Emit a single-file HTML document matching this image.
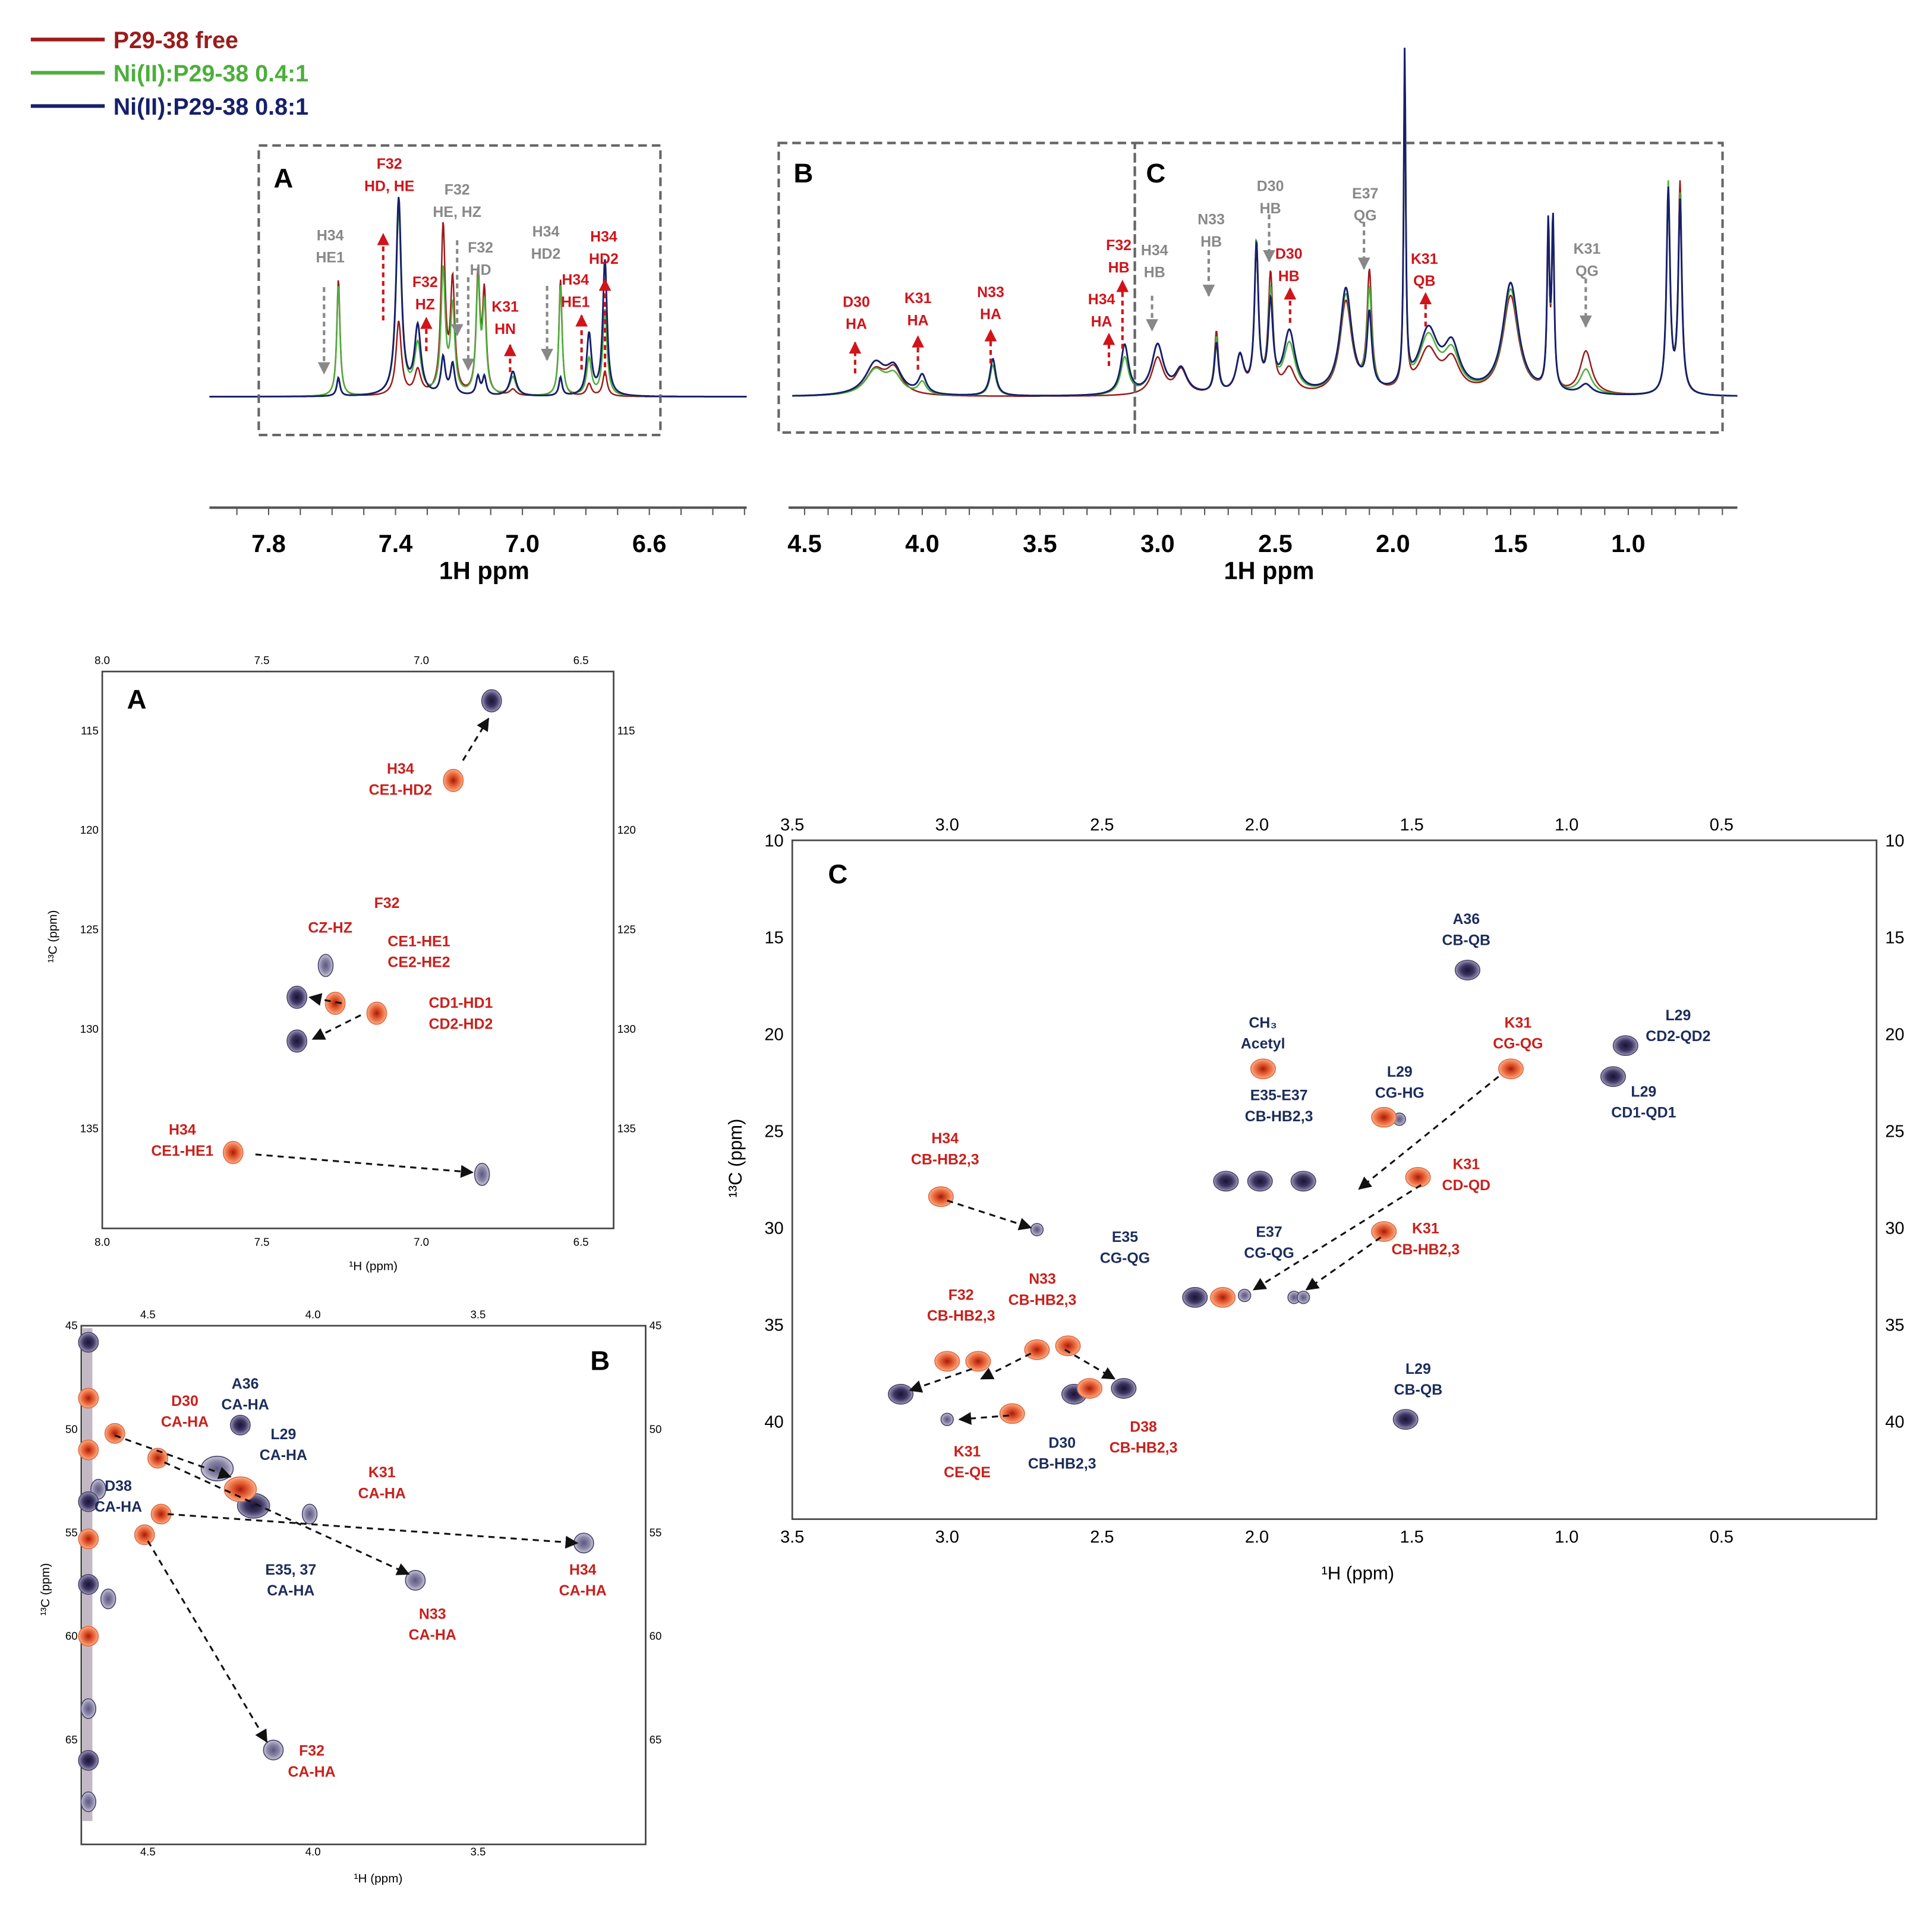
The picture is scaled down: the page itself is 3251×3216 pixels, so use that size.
<!DOCTYPE html>
<html><head><meta charset="utf-8"><style>
html,body{margin:0;padding:0;background:#fff;}
svg{display:block;}
text{font-family:"Liberation Sans",sans-serif;}
</style></head><body>
<svg id="fig" xmlns="http://www.w3.org/2000/svg" width="3251" height="3216" viewBox="0 0 1568 1551">
<defs>
<marker id="ah-k" viewBox="0 0 10 10" refX="9" refY="5" markerWidth="7" markerHeight="7" orient="auto"><path d="M0,0 L10,5 L0,10 z" fill="#111"/></marker>
<marker id="ah-r" viewBox="0 0 10 10" refX="9" refY="5" markerWidth="5" markerHeight="5" orient="auto"><path d="M0,0 L10,5 L0,10 z" fill="#d0141a"/></marker>
<marker id="ah-g" viewBox="0 0 10 10" refX="9" refY="5" markerWidth="5" markerHeight="5" orient="auto"><path d="M0,0 L10,5 L0,10 z" fill="#888"/></marker>
<radialGradient id="gr-red"><stop offset="0" stop-color="#a01c10"/><stop offset="0.45" stop-color="#e2552a"/><stop offset="0.8" stop-color="#f08a60"/><stop offset="1" stop-color="#f6b79a"/></radialGradient>
<radialGradient id="gr-blue"><stop offset="0" stop-color="#1a1433"/><stop offset="0.5" stop-color="#3a3360"/><stop offset="0.85" stop-color="#7a7598"/><stop offset="1" stop-color="#b4b1c8"/></radialGradient>
<radialGradient id="gr-lblue"><stop offset="0" stop-color="#5a5680"/><stop offset="0.6" stop-color="#8c88a8"/><stop offset="1" stop-color="#c9c7d8"/></radialGradient>
</defs>
</svg>
<script>
const NS='http://www.w3.org/2000/svg';
const svg=document.getElementById('fig');

/* ---------- 1D spectrum data ---------- */
const aromPpm   =[7.58,7.39,7.33,7.25,7.22,7.14,7.12,7.03,6.88,6.79,6.74];
const aromFree  =[95,60,20,135,90,95,80,5,95,10,20];
const aromNi04  =[90,150,40,100,70,90,70,15,90,30,70];
const aromNi08  =[15,160,55,30,25,15,15,20,15,50,110];
const aromWidth =[0.006,0.01,0.012,0.008,0.008,0.007,0.007,0.012,0.006,0.009,0.008];

const aliPpm    =[4.2,4.12,4.0,3.7,3.14,3.0,2.9,2.75,2.65,2.58,2.52,2.44,2.2,2.1,1.95,1.85,1.75,1.5,1.34,1.32,1.18,0.83,0.78];
const aliFree   =[20,20,0,0,0,30,20,50,30,115,95,20,75,95,270,35,25,80,120,130,35,160,170];
const aliNi04   =[20,15,10,25,30,40,20,45,30,120,80,40,80,80,268,45,30,85,125,135,20,170,160];
const aliNi08   =[25,20,15,30,40,40,20,40,30,118,70,50,85,60,270,50,35,90,130,135,8,165,155];
const aliWidth  =[0.05,0.04,0.02,0.015,0.02,0.03,0.03,0.01,0.02,0.01,0.012,0.03,0.03,0.012,0.005,0.05,0.04,0.04,0.006,0.006,0.03,0.009,0.009];

const seriesColors=['#9b1b1b','#4caf3c','#16206a'];
const seriesNames=['P29-38 free','Ni(II):P29-38 0.4:1','Ni(II):P29-38 0.8:1'];

const peaksA_H=[6.78,6.90,7.59,6.81,7.14,7.27,7.30,7.39,7.39];
const peaksA_C=[113.5,117.5,136.2,137.3,129.2,128.7,126.8,128.4,130.6];
const peaksA_T=['b','r','r','l','r','r','l','b','b'];

const peaksB_H=[4.47,4.46,4.51,4.22,4.29,4.18,4.22,4.01,3.69,3.18,4.12,4.65,4.68,4.68,4.68,4.68,4.68,4.68,4.68,4.68,4.68,4.68,4.6,4.62];
const peaksB_C=[51.4,54.1,55.1,49.8,51.9,53.7,52.9,54.1,57.3,55.5,65.5,52.9,45.8,48.5,51,53.5,55.3,57.5,60,63.5,66,68,50.2,58.2];
const peaksB_T=['r','r','r','b','l','b','r','l','l','l','l','l','b','r','r','b','r','b','r','l','b','l','r','l'];

const peaksC_H=[1.32,0.81,0.85,1.98,1.18,1.54,1.59,1.99,2.1,1.85,1.48,1.59,3.02,2.71,2.2,2.11,2.04,1.88,3.0,2.9,2.71,2.61,3.15,3.0,2.79,2.59,2.54,2.43,1.52,1.85];
const peaksC_C=[16.7,20.6,22.2,21.8,21.8,24.4,24.3,27.6,27.6,27.6,27.4,30.2,28.4,30.1,33.6,33.6,33.5,33.6,36.9,36.9,36.3,36.1,38.6,39.9,39.6,38.6,38.3,38.3,39.9,33.6];
const peaksC_T=['b','b','b','r','r','l','r','b','b','b','r','r','r','l','b','r','l','l','r','r','r','r','b','l','r','b','r','b','b','l'];

function mk(tag,attrs,name,inter,parent){
  const el=document.createElementNS(NS,tag);
  for(const k in attrs) el.setAttribute(k,attrs[k]);
  
  
  (parent||svg).appendChild(el);
  return el;
}
function txt(x,y,s,opts,name){
  const o=Object.assign({size:12,fill:'#000',anchor:'middle',weight:'bold',family:'"Liberation Sans",sans-serif'},opts||{});
  const t=mk('text',{x:x,y:y,'font-size':o.size,fill:o.fill,'text-anchor':o.anchor,'font-weight':o.weight,'font-family':o.family},name,'false');
  t.textContent=s;
  if(o.rotate) t.setAttribute('transform','rotate('+o.rotate+' '+x+' '+y+')');
  return t;
}
function lbl(x,y,lines,color,name,size,lh){
  size=size||12; lh=lh||17;
  lines.forEach((s,i)=>txt(x,y+i*lh,s,{fill:color,size:size},name+'-line'+(i+1)));
}
function arrow(x1,y1,x2,y2,kind,name){
  const col=kind==='r'?'#d0141a':(kind==='g'?'#888':'#111');
  mk('line',{x1:x1,y1:y1,x2:x2,y2:y2,stroke:col,'stroke-width':kind==='k'?1.5:2,'stroke-dasharray':kind==='k'?'5,4':'4,3','marker-end':'url(#ah-'+kind+')'},name,'false');
}

/* ---------- Legend ---------- */
seriesNames.forEach((n,i)=>{
  const y=32+i*27;
  mk('line',{x1:25,y1:y,x2:85,y2:y,stroke:seriesColors[i],'stroke-width':3},'legend-line-'+(i+1),'false');
  txt(92,y+7,n,{fill:seriesColors[i],size:19,anchor:'start'},'legend-entry-'+(i+1));
});

/* ---------- 1D spectra ---------- */
const base=322;
function xArom(p){return 218+(7.8-p)*257.5;}
function xAli(p){return 653+(4.5-p)*191;}
function specVal(p,pp,hh,ww){let s=0;for(let i=0;i<pp.length;i++){const d=p-pp[i];s+=hh[i]*ww[i]*ww[i]/(d*d+ww[i]*ww[i]);}return s;}
function drawSpec(xmin,xmax,xf,pp,sets,ww,name){
  const inv=(x)=>{const p0=xf(0),p1=xf(1);return (x-p0)/(p1-p0);};
  sets.forEach((hh,si)=>{
    let d='';
    for(let x=xmin;x<=xmax;x+=0.5){
      const p=inv(x);
      const y=base-specVal(p,pp,hh,ww);
      d+=(x===xmin?'M':'L')+x.toFixed(1)+','+y.toFixed(1);
    }
    mk('path',{d:d,fill:'none',stroke:seriesColors[si],'stroke-width':si===2?1.4:1.2},name+'-series-'+(si+1),'false');
  });
}
drawSpec(170,606,xArom,aromPpm,[aromFree,aromNi04,aromNi08],aromWidth,'aromatic-spectrum');
drawSpec(643,1410,xAli,aliPpm,[aliFree,aliNi04,aliNi08],aliWidth,'aliphatic-spectrum');

mk('rect',{x:210,y:118,width:326,height:235,fill:'none',stroke:'#666','stroke-width':2,'stroke-dasharray':'7,4'},'box-a','false');
mk('rect',{x:632,y:116,width:289,height:235,fill:'none',stroke:'#666','stroke-width':2,'stroke-dasharray':'7,4'},'box-b','false');
mk('rect',{x:921,y:116,width:477,height:235,fill:'none',stroke:'#666','stroke-width':2,'stroke-dasharray':'7,4'},'box-c','false');
txt(230,152,'A',{size:22},'box-a-letter');
txt(652,148,'B',{size:22},'box-b-letter');
txt(938,148,'C',{size:22},'box-c-letter');

const ticksArom=[7.8,7.4,7.0,6.6];
const ticksAli=[4.5,4.0,3.5,3.0,2.5,2.0,1.5,1.0];
mk('line',{x1:170,y1:412,x2:606,y2:412,stroke:'#555','stroke-width':2},'x-axis-aromatic','false');
mk('line',{x1:640,y1:412,x2:1410,y2:412,stroke:'#555','stroke-width':2},'x-axis-aliphatic','false');
for(let p=7.9;p>=6.3;p-=0.1){const x=xArom(p);if(x>170&&x<606)mk('line',{x1:x,y1:412,x2:x,y2:418,stroke:'#555','stroke-width':1},'x-tick-aromatic','false');}
for(let p=4.5;p>=0.5;p-=0.1){const x=xAli(p);if(x>640&&x<1410)mk('line',{x1:x,y1:412,x2:x,y2:418,stroke:'#555','stroke-width':1},'x-tick-aliphatic','false');}
ticksArom.forEach(t=>txt(xArom(t),448,t.toFixed(1),{size:20},'x-tick-label-aromatic'));
ticksAli.forEach(t=>txt(xAli(t),448,t.toFixed(1),{size:20},'x-tick-label-aliphatic'));
txt(393,470,'1H ppm',{size:20},'x-axis-title-aromatic');
txt(1030,470,'1H ppm',{size:20},'x-axis-title-aliphatic');

const R='#d0141a',G='#888';
lbl(268,195,['H34','HE1'],G,'ann-h34-he1',12,18); arrow(263,233,263,303,'g','arr-h34-he1');
lbl(316,137,['F32','HD, HE'],R,'ann-f32-hdhe',12,18); arrow(311,260,311,190,'r','arr-f32-hdhe');
lbl(345,233,['F32','HZ'],R,'ann-f32-hz',12,18); arrow(346,285,346,258,'r','arr-f32-hz');
lbl(371,158,['F32','HE, HZ'],G,'ann-f32-hehz',12,18); arrow(371,195,371,272,'g','arr-f32-hehz');
lbl(390,205,['F32','HD'],G,'ann-f32-hd',12,18); arrow(380,225,380,300,'g','arr-f32-hd');
lbl(410,253,['K31','HN'],R,'ann-k31-hn',12,18); arrow(414,302,414,280,'r','arr-k31-hn');
lbl(443,192,['H34','HD2'],G,'ann-h34-hd2-gray',12,18); arrow(444,232,444,292,'g','arr-h34-hd2');
lbl(467,231,['H34','HE1'],R,'ann-h34-he1-red',12,18); arrow(472,300,472,256,'r','arr-h34-he1-red');
lbl(490,196,['H34','HD2'],R,'ann-h34-hd2-red',12,18); arrow(491,305,491,227,'r','arr-h34-hd2-red');
lbl(695,249,['D30','HA'],R,'ann-d30-ha',12,18); arrow(694,303,694,278,'r','arr-d30-ha');
lbl(745,246,['K31','HA'],R,'ann-k31-ha',12,18); arrow(745,300,745,273,'r','arr-k31-ha');
lbl(804,241,['N33','HA'],R,'ann-n33-ha',12,18); arrow(804,295,804,268,'r','arr-n33-ha');
lbl(894,247,['H34','HA'],R,'ann-h34-ha',12,18); arrow(900,297,900,271,'r','arr-h34-ha');
lbl(908,203,['F32','HB'],R,'ann-f32-hb',12,18); arrow(911,283,911,228,'r','arr-f32-hb');
lbl(937,207,['H34','HB'],G,'ann-h34-hb',12,18); arrow(935,240,935,268,'g','arr-h34-hb');
lbl(983,182,['N33','HB'],G,'ann-n33-hb',12,18); arrow(981,203,981,240,'g','arr-n33-hb');
lbl(1031,155,['D30','HB'],G,'ann-d30-hb-gray',12,18); arrow(1030,174,1030,212,'g','arr-d30-hb-gray');
lbl(1046,210,['D30','HB'],R,'ann-d30-hb-red',12,18); arrow(1047,262,1047,234,'r','arr-d30-hb-red');
lbl(1108,161,['E37','QG'],G,'ann-e37-qg',12,18); arrow(1107,180,1107,218,'g','arr-e37-qg');
lbl(1156,214,['K31','QB'],R,'ann-k31-qb',12,18); arrow(1157,265,1157,238,'r','arr-k31-qb');
lbl(1288,206,['K31','QG'],G,'ann-k31-qg',12,18); arrow(1287,226,1287,265,'g','arr-k31-qg');

/* ---------- 2D panels ---------- */
function frame(x0,y0,x1,y1,name){
  mk('rect',{x:x0,y:y0,width:x1-x0,height:y1-y0,fill:'none',stroke:'#444','stroke-width':1.3},name,'false');
}
const serif='"Liberation Serif",serif';
function blob(x,y,t,rx,ry,name){
  const f=t==='r'?'url(#gr-red)':(t==='b'?'url(#gr-blue)':'url(#gr-lblue)');
  mk('ellipse',{cx:x,cy:y,rx:rx,ry:ry,fill:f,stroke:t==='r'?'#e86a40':'#4a4570','stroke-width':0.8},name,'false');
}

function axA(p){return 83+(8-p)*259;} function ayA(c){return 593+(c-115)*16.15;}
frame(83,545,498,997,'panel-a-frame');
const tAH=[8.0,7.5,7.0,6.5], tAC=[115,120,125,130,135];
tAH.forEach(t=>{txt(axA(t),539,t.toFixed(1),{size:9,weight:'normal',family:serif},'panel-a-top-tick');txt(axA(t),1011,t.toFixed(1),{size:9,weight:'normal',family:serif},'panel-a-bottom-tick');});
tAC.forEach(t=>{txt(80,ayA(t)+3,t,{size:9,weight:'normal',family:serif,anchor:'end'},'panel-a-left-tick');txt(501,ayA(t)+3,t,{size:9,weight:'normal',family:serif,anchor:'start'},'panel-a-right-tick');});
txt(303,1031,'¹H (ppm)',{size:10,weight:'normal',family:serif},'panel-a-x-title');
txt(46,760,'¹³C (ppm)',{size:10,weight:'normal',family:serif,rotate:-90},'panel-a-y-title');
txt(111,575,'A',{size:22},'panel-a-letter');
peaksA_H.forEach((h,i)=>blob(axA(h),ayA(peaksA_C[i]),peaksA_T[i],peaksA_T[i]==='l'?6:8,9,'panel-a-peak-'+(i+1)));
arrow(axA(6.87),ayA(116.5),axA(6.79),ayA(114.4),'k','panel-a-arrow-1');
arrow(axA(7.52),ayA(136.3),axA(6.84),ayA(137.2),'k','panel-a-arrow-2');
arrow(axA(7.25),ayA(128.7),axA(7.35),ayA(128.4),'k','panel-a-arrow-3');
arrow(axA(7.19),ayA(129.3),axA(7.34),ayA(130.5),'k','panel-a-arrow-4');
lbl(325,628,['H34','CE1-HD2'],'#c8201c','panel-a-lbl-h34-hd2');
lbl(314,737,['F32'],'#c8201c','panel-a-lbl-f32');
lbl(268,757,['CZ-HZ'],'#c8201c','panel-a-lbl-cz');
lbl(340,768,['CE1-HE1','CE2-HE2'],'#c8201c','panel-a-lbl-ce');
lbl(374,818,['CD1-HD1','CD2-HD2'],'#c8201c','panel-a-lbl-cd');
lbl(148,921,['H34','CE1-HE1'],'#c8201c','panel-a-lbl-h34-he1');

function axB(p){return 120+(4.5-p)*268;} function ayB(c){return 1076+(c-45)*16.8;}
frame(66,1076,524,1497,'panel-b-frame');
mk('rect',{x:67,y:1078,width:8,height:400,fill:'#9a8a9c',opacity:0.6},'panel-b-edge-strip','false');
const tBH=[4.5,4.0,3.5], tBC=[45,50,55,60,65];
tBH.forEach(t=>{txt(axB(t),1070,t.toFixed(1),{size:9,weight:'normal',family:serif},'panel-b-top-tick');txt(axB(t),1506,t.toFixed(1),{size:9,weight:'normal',family:serif},'panel-b-bottom-tick');});
tBC.forEach(t=>{txt(63,ayB(t)+3,t,{size:9,weight:'normal',family:serif,anchor:'end'},'panel-b-left-tick');txt(527,ayB(t)+3,t,{size:9,weight:'normal',family:serif,anchor:'start'},'panel-b-right-tick');});
txt(307,1528,'¹H (ppm)',{size:10,weight:'normal',family:serif},'panel-b-x-title');
txt(40,1290,'¹³C (ppm)',{size:10,weight:'normal',family:serif,rotate:-90},'panel-b-y-title');
txt(487,1112,'B',{size:22},'panel-b-letter');
peaksB_H.forEach((h,i)=>{const t=peaksB_T[i];const big=(i===4||i===5||i===6);blob(axB(h),ayB(peaksB_C[i]),t,big?13:(i>=9&&i<=10||i===8)?8:(t==='l'?6:8),big?10:8,'panel-b-peak-'+(i+1));});
arrow(axB(4.6),ayB(50.3),axB(4.25),ayB(52.3),'k','panel-b-arrow-1');
arrow(axB(4.45),ayB(51.6),axB(3.71),ayB(57.0),'k','panel-b-arrow-2');
arrow(axB(4.44),ayB(54.1),axB(3.2),ayB(55.5),'k','panel-b-arrow-3');
arrow(axB(4.5),ayB(55.4),axB(4.14),ayB(65.1),'k','panel-b-arrow-4');
lbl(199,1127,['A36','CA-HA'],'#1c2c5b','panel-b-lbl-a36');
lbl(150,1141,['D30','CA-HA'],'#c8201c','panel-b-lbl-d30');
lbl(230,1168,['L29','CA-HA'],'#1c2c5b','panel-b-lbl-l29');
lbl(96,1210,['D38','CA-HA'],'#1c2c5b','panel-b-lbl-d38');
lbl(310,1199,['K31','CA-HA'],'#c8201c','panel-b-lbl-k31');
lbl(236,1278,['E35, 37','CA-HA'],'#1c2c5b','panel-b-lbl-e35');
lbl(351,1314,['N33','CA-HA'],'#c8201c','panel-b-lbl-n33');
lbl(473,1278,['H34','CA-HA'],'#c8201c','panel-b-lbl-h34');
lbl(253,1425,['F32','CA-HA'],'#c8201c','panel-b-lbl-f32');

function axC(p){return 643+(3.5-p)*251.4;} function ayC(c){return 682+(c-10)*15.72;}
frame(643,682,1523,1233,'panel-c-frame');
const tCH=[3.5,3.0,2.5,2.0,1.5,1.0,0.5], tCC=[10,15,20,25,30,35,40];
tCH.forEach(t=>{txt(axC(t),674,t.toFixed(1),{size:14,weight:'normal',family:serif},'panel-c-top-tick');txt(axC(t),1252,t.toFixed(1),{size:14,weight:'normal',family:serif},'panel-c-bottom-tick');});
tCC.forEach(t=>{txt(636,ayC(t)+5,t,{size:14,weight:'normal',family:serif,anchor:'end'},'panel-c-left-tick');txt(1530,ayC(t)+5,t,{size:14,weight:'normal',family:serif,anchor:'start'},'panel-c-right-tick');});
txt(1102,1282,'¹H (ppm)',{size:15,weight:'normal',family:serif},'panel-c-x-title');
txt(602,940,'¹³C (ppm)',{size:15,weight:'normal',family:serif,rotate:-90},'panel-c-y-title');
txt(680,717,'C',{size:22},'panel-c-letter');
peaksC_H.forEach((h,i)=>{const t=peaksC_T[i];blob(axC(h),ayC(peaksC_C[i]),t,t==='l'?5:10,t==='l'?5:8,'panel-c-peak-'+(i+1));});
arrow(axC(3.0),ayC(28.6),axC(2.73),ayC(30.0),'k','panel-c-arrow-1');
arrow(axC(1.22),ayC(22.2),axC(1.67),ayC(28.0),'k','panel-c-arrow-2');
arrow(axC(1.6),ayC(30.5),axC(1.84),ayC(33.2),'k','panel-c-arrow-3');
arrow(axC(1.47),ayC(27.8),axC(2.01),ayC(33.2),'k','panel-c-arrow-4');
arrow(axC(2.92),ayC(37.3),axC(3.12),ayC(38.4),'k','panel-c-arrow-5');
arrow(axC(2.73),ayC(36.5),axC(2.89),ayC(37.8),'k','panel-c-arrow-6');
arrow(axC(2.62),ayC(36.3),axC(2.46),ayC(37.8),'k','panel-c-arrow-7');
arrow(axC(2.8),ayC(39.7),axC(2.96),ayC(39.9),'k','panel-c-arrow-8');
lbl(1190,750,['A36','CB-QB'],'#1c2c5b','panel-c-lbl-a36');
lbl(1362,828,['L29','CD2-QD2'],'#1c2c5b','panel-c-lbl-l29-cd2');
lbl(1334,890,['L29','CD1-QD1'],'#1c2c5b','panel-c-lbl-l29-cd1');
lbl(1025,834,['CH₃','Acetyl'],'#1c2c5b','panel-c-lbl-acetyl');
lbl(1232,834,['K31','CG-QG'],'#c8201c','panel-c-lbl-k31-cg');
lbl(1136,874,['L29','CG-HG'],'#1c2c5b','panel-c-lbl-l29-cg');
lbl(1038,893,['E35-E37','CB-HB2,3'],'#1c2c5b','panel-c-lbl-e35-cb');
lbl(1190,949,['K31','CD-QD'],'#c8201c','panel-c-lbl-k31-cd');
lbl(767,928,['H34','CB-HB2,3'],'#c8201c','panel-c-lbl-h34-cb');
lbl(1157,1001,['K31','CB-HB2,3'],'#c8201c','panel-c-lbl-k31-cb');
lbl(913,1008,['E35','CG-QG'],'#1c2c5b','panel-c-lbl-e35-cg');
lbl(1030,1004,['E37','CG-QG'],'#1c2c5b','panel-c-lbl-e37-cg');
lbl(780,1055,['F32','CB-HB2,3'],'#c8201c','panel-c-lbl-f32-cb');
lbl(846,1042,['N33','CB-HB2,3'],'#c8201c','panel-c-lbl-n33-cb');
lbl(928,1162,['D38','CB-HB2,3'],'#c8201c','panel-c-lbl-d38-cb');
lbl(862,1175,['D30','CB-HB2,3'],'#1c2c5b','panel-c-lbl-d30-cb');
lbl(785,1182,['K31','CE-QE'],'#c8201c','panel-c-lbl-k31-ce');
lbl(1151,1115,['L29','CB-QB'],'#1c2c5b','panel-c-lbl-l29-cb');
</script>
</body></html>
